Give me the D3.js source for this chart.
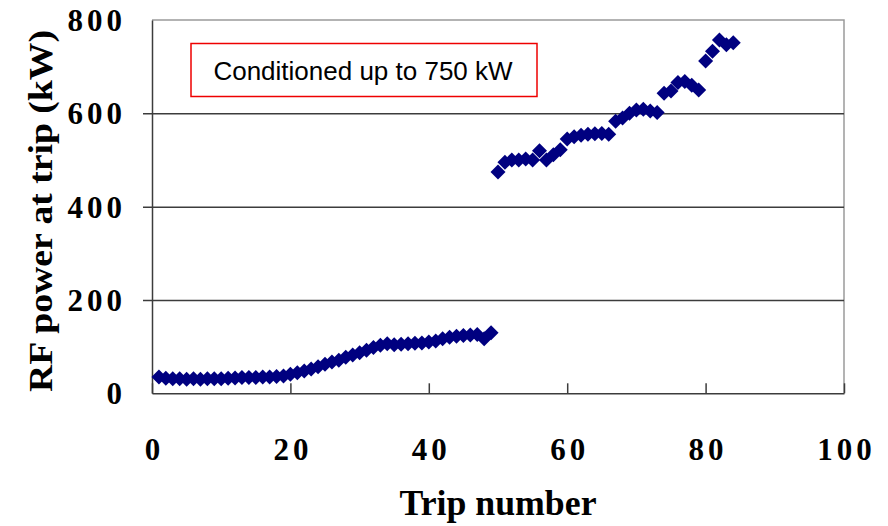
<!DOCTYPE html>
<html>
<head>
<meta charset="utf-8">
<script src="https://cdn.jsdelivr.net/npm/d3@7"></script>
<style>
  html, body { margin: 0; padding: 0; background: #ffffff; }
  svg { display: block; }
</style>
</head>
<body>
<svg id="chart" width="888" height="526"></svg>
<script>
// RF power reached at each trip during conditioning
const trips = d3.range(1, 85);
const powerLow = [
  35, 32, 31, 31, 30, 31, 30, 31, 31, 31,
  32, 33, 34, 34, 34, 35, 35, 36, 37, 41,
  44, 48, 52, 57, 62, 67, 71, 77, 82, 87,
  92, 98, 103, 106, 104, 105, 106, 107, 108, 110,
  112, 117, 120, 122, 124, 125, 126, 117, 130
];
const powerHigh = [
  474, 495, 500, 500, 502, 500, 520, 500, 511, 522,
  545, 550, 553, 555, 556, 557, 555, 583, 590, 600,
  607, 609, 605, 602, 643, 648, 666, 668, 660, 650,
  712, 733, 757, 747, 751
];
const power = powerLow.concat(powerHigh);
const xTicks = [0, 20, 40, 60, 80, 100];
const yTicks = [0, 200, 400, 600, 800];
const noteText = "Conditioned up to 750 kW";

const svg = d3.select("#chart");
const plotL = 152, plotR = 844, plotT = 20, plotB = 393.3;
const serif = "'Liberation Serif', 'Times New Roman', serif";
const labelSize = 31, labelSpacing = 4;

const x = d3.scaleLinear().domain([0, 100]).range([plotL, plotR]);
const y = d3.scaleLinear().domain([0, 800]).range([plotB, plotT]);

// frame: top and right edges in light grey
svg.append("path")
  .attr("d", `M${plotL},${plotT}H${plotR}V${plotB}`)
  .attr("fill", "none").attr("stroke", "#9a9a9a").attr("stroke-width", 1.5);

// horizontal gridlines with short outward ticks
const grid = svg.append("g")
  .attr("transform", `translate(${plotL},0)`)
  .call(d3.axisLeft(y).tickValues([200, 400, 600]).tickSize(-(plotR - plotL)).tickFormat(""));
grid.select(".domain").remove();
grid.selectAll(".tick line")
  .attr("stroke", "#3c3c3c").attr("stroke-width", 1.5)
  .attr("x1", -9);

// y axis line and labels
const yAxis = svg.append("g")
  .attr("transform", `translate(${plotL},0)`)
  .call(d3.axisLeft(y).tickValues(yTicks).tickSize(0).tickPadding(30 - labelSpacing));
yAxis.select(".domain").attr("stroke", "#3c3c3c").attr("stroke-width", 1.5);
yAxis.selectAll("text")
  .attr("dy", "0.34em")
  .attr("font-family", serif)
  .attr("font-weight", "bold").attr("font-size", labelSize)
  .attr("letter-spacing", labelSpacing)
  .attr("fill", "#000");

// x axis with inward ticks
const xAxis = svg.append("g")
  .attr("transform", `translate(0,${plotB})`)
  .call(d3.axisBottom(x).tickValues(xTicks).tickSizeInner(-10).tickSizeOuter(0).tickPadding(0));
xAxis.select(".domain").attr("stroke", "#3c3c3c").attr("stroke-width", 1.5);
xAxis.selectAll(".tick line").attr("stroke", "#3c3c3c").attr("stroke-width", 1.5);
xAxis.selectAll(".tick text")
  .attr("y", 67).attr("dy", 0).attr("dx", labelSpacing / 2)
  .attr("font-family", serif)
  .attr("font-weight", "bold").attr("font-size", labelSize)
  .attr("letter-spacing", labelSpacing)
  .attr("fill", "#000");

// axis titles
svg.append("text")
  .attr("x", 498).attr("y", 515)
  .attr("text-anchor", "middle")
  .attr("font-family", serif)
  .attr("font-weight", "bold").attr("font-size", 35)
  .attr("textLength", 197).attr("lengthAdjust", "spacingAndGlyphs")
  .text("Trip number");

svg.append("text")
  .attr("transform", "translate(52,211) rotate(-90)")
  .attr("text-anchor", "middle")
  .attr("font-family", serif)
  .attr("font-weight", "bold").attr("font-size", 34)
  .attr("textLength", 362).attr("lengthAdjust", "spacingAndGlyphs")
  .text("RF power at trip (kW)");

// data markers: navy diamonds
const r = 7.5;
svg.append("g").selectAll("path")
  .data(trips.map((t, i) => [t, power[i]]))
  .join("path")
  .attr("transform", d => `translate(${x(d[0])},${y(d[1])})`)
  .attr("d", `M0,${-r}L${r},0L0,${r}L${-r},0Z`)
  .attr("fill", "#000080");

// annotation box
svg.append("rect")
  .attr("x", 191).attr("y", 43.5).attr("width", 346).attr("height", 53)
  .attr("fill", "#ffffff").attr("stroke", "#ee0000").attr("stroke-width", 1.5);
svg.append("text")
  .attr("x", 363).attr("y", 80)
  .attr("text-anchor", "middle")
  .attr("font-family", "'Liberation Sans', Arial, sans-serif")
  .attr("font-size", 26)
  .attr("fill", "#000")
  .text(noteText);
</script>
</body>
</html>
